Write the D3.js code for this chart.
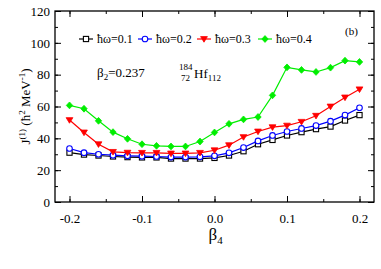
<!DOCTYPE html>
<html>
<head>
<meta charset="utf-8">
<script src="https://cdn.jsdelivr.net/npm/d3@7"></script>
<style>
  body { margin: 0; background: #fff; }
  text { font-family: "Liberation Serif", "DejaVu Serif", serif; fill: #000; }
</style>
</head>
<body>
<div id="chart"></div>
<script>
// beta4 grid
var beta4 = [-0.20, -0.18, -0.16, -0.14, -0.12, -0.10, -0.08, -0.06, -0.04, -0.02,
             0.00, 0.02, 0.04, 0.06, 0.08, 0.10, 0.12, 0.14, 0.16, 0.18, 0.20];

// J(1) for each rotational frequency
var j01 = [31.0, 29.8, 29.2, 28.6, 28.2, 28.0, 28.0, 27.3, 27.3, 27.3,
           27.7, 29.2, 31.9, 36.3, 39.0, 41.8, 43.9, 45.8, 47.4, 51.2, 54.6];
var j02 = [33.6, 31.0, 30.0, 29.4, 29.0, 28.8, 28.6, 28.2, 28.2, 28.4,
           29.0, 30.9, 34.2, 38.4, 41.8, 44.3, 46.2, 48.0, 50.8, 54.6, 59.2];
var j03 = [51.5, 43.7, 36.3, 31.5, 31.0, 30.9, 30.9, 30.5, 30.5, 30.9,
           32.5, 35.7, 40.8, 44.3, 47.0, 48.0, 50.4, 54.2, 60.0, 65.7, 70.8];
var j04 = [60.7, 58.6, 51.0, 43.9, 39.7, 36.3, 35.3, 34.9, 34.9, 38.0,
           43.7, 49.1, 51.9, 53.4, 67.0, 84.6, 83.0, 81.7, 84.4, 88.8, 88.0];

var seriesNames = ["\u0127\u03c9=0.1", "\u0127\u03c9=0.2", "\u0127\u03c9=0.3", "\u0127\u03c9=0.4"];
var xTicks = [-0.2, -0.1, 0.0, 0.1, 0.2];
var yTicks = [0, 20, 40, 60, 80, 100, 120];

var W = 381, H = 269;
var margin = {top: 11, right: 7, bottom: 67, left: 55};

var svg = d3.select("#chart").append("svg")
    .attr("width", W)
    .attr("height", H);

var x = d3.scaleLinear().domain([-0.22, 0.22]).range([margin.left, W - margin.right]);
var y = d3.scaleLinear().domain([0, 120]).range([H - margin.bottom, margin.top]);

var series = [
    {name: seriesNames[0], values: j01, color: "#000000", marker: "square"},
    {name: seriesNames[1], values: j02, color: "#0000ff", marker: "circle"},
    {name: seriesNames[2], values: j03, color: "#ff0000", marker: "triangle"},
    {name: seriesNames[3], values: j04, color: "#00ee00", marker: "diamond"}
];

// axes with inward ticks on all four sides
function addAxis(axis, transform) {
    var g = svg.append("g").attr("transform", transform).call(axis);
    g.select(".domain").remove();
    g.selectAll("line").attr("stroke", "#000").attr("stroke-width", 1);
    return g;
}
var xMinor = d3.range(-0.2, 0.2001, 0.05);
var yMinor = d3.range(0, 121, 10);

addAxis(d3.axisBottom(x).tickValues(xMinor).tickSize(-3).tickFormat(""), "translate(0," + y(0) + ")");
addAxis(d3.axisTop(x).tickValues(xMinor).tickSize(-3).tickFormat(""), "translate(0," + y(120) + ")");
addAxis(d3.axisLeft(y).tickValues(yMinor).tickSize(-3).tickFormat(""), "translate(" + x(-0.22) + ",0)");
addAxis(d3.axisRight(y).tickValues(yMinor).tickSize(-3).tickFormat(""), "translate(" + x(0.22) + ",0)");

var xb = addAxis(d3.axisBottom(x).tickValues(xTicks).tickSize(-6).tickPadding(12)
        .tickFormat(d3.format(".1f")), "translate(0," + y(0) + ")");
xb.selectAll("text").attr("font-size", 13).attr("font-family", "Liberation Serif");
addAxis(d3.axisTop(x).tickValues(xTicks).tickSize(-6).tickFormat(""), "translate(0," + y(120) + ")");
var yl = addAxis(d3.axisLeft(y).tickValues(yTicks).tickSize(-6).tickPadding(5), "translate(" + x(-0.22) + ",0)");
yl.selectAll("text").attr("font-size", 13).attr("font-family", "Liberation Serif");
addAxis(d3.axisRight(y).tickValues(yTicks).tickSize(-6).tickFormat(""), "translate(" + x(0.22) + ",0)");

xb.selectAll("text").text(function(d) { return d3.format(".1f")(d).replace("\u2212", "-"); });

svg.append("rect")
    .attr("x", x(-0.22)).attr("y", y(120))
    .attr("width", x(0.22) - x(-0.22)).attr("height", y(0) - y(120))
    .attr("fill", "none").attr("stroke", "#000").attr("stroke-width", 1.3);

// markers
function drawMarker(g, type, color, cx, cy) {
    if (type == "square") {
        g.append("rect").attr("x", cx - 2.6).attr("y", cy - 2.6).attr("width", 5.2).attr("height", 5.2)
            .attr("fill", "#fff").attr("stroke", color).attr("stroke-width", 1.1);
    } else if (type == "circle") {
        g.append("circle").attr("cx", cx).attr("cy", cy).attr("r", 2.8)
            .attr("fill", "#fff").attr("stroke", color).attr("stroke-width", 1.1);
    } else if (type == "triangle") {
        g.append("path").attr("d", "M" + (cx - 3.4) + "," + (cy - 2.4) + "L" + (cx + 3.4) + "," + (cy - 2.4) + "L" + cx + "," + (cy + 3.2) + "Z")
            .attr("fill", color).attr("stroke", color).attr("stroke-width", 0.8);
    } else {
        g.append("path").attr("d", "M" + cx + "," + (cy - 3.4) + "L" + (cx + 3.2) + "," + cy + "L" + cx + "," + (cy + 3.4) + "L" + (cx - 3.2) + "," + cy + "Z")
            .attr("fill", color).attr("stroke", color).attr("stroke-width", 0.8);
    }
}

var line = d3.line()
    .x(function(d, i) { return x(beta4[i]); })
    .y(function(d) { return y(d); });

series.forEach(function(s) {
    var g = svg.append("g");
    g.append("path")
        .datum(s.values)
        .attr("d", line)
        .attr("fill", "none")
        .attr("stroke", s.color)
        .attr("stroke-width", 1.2);
    s.values.forEach(function(v, i) {
        drawMarker(g, s.marker, s.color, x(beta4[i]), y(v));
    });
});

// legend
var legX = [79, 138, 197, 258];
var legY = 39;
series.forEach(function(s, i) {
    var g = svg.append("g");
    g.append("line").attr("x1", legX[i]).attr("x2", legX[i] + 14)
        .attr("y1", legY).attr("y2", legY)
        .attr("stroke", s.color).attr("stroke-width", 1.2);
    drawMarker(g, s.marker, s.color, legX[i] + 7, legY);
    g.append("text").attr("x", legX[i] + 18).attr("y", legY + 4)
        .attr("font-size", 12).text(s.name);
});

svg.append("text").attr("x", 345).attr("y", 35).attr("font-size", 11).text("(b)");

// annotations
var b2 = svg.append("text").attr("x", 97).attr("y", 77).attr("font-size", 13);
b2.append("tspan").text("\u03b2");
b2.append("tspan").attr("font-size", 9).attr("dy", 3).text("2");
b2.append("tspan").attr("dy", -3).text("=0.237");

svg.append("text").attr("x", 179).attr("y", 70).attr("font-size", 9).text("184");
svg.append("text").attr("x", 181).attr("y", 81).attr("font-size", 9).text("72");
var hf = svg.append("text").attr("x", 194).attr("y", 78).attr("font-size", 13);
hf.append("tspan").text("Hf");
hf.append("tspan").attr("font-size", 9).attr("dy", 3).text("112");

// axis titles
var xt = svg.append("text").attr("x", x(0) - 6).attr("y", 240).attr("font-size", 17);
xt.append("tspan").text("\u03b2");
xt.append("tspan").attr("font-size", 11).attr("dy", 4).text("4");

var yt = svg.append("text")
    .attr("transform", "translate(30," + y(60) + ") rotate(-90)")
    .attr("text-anchor", "middle")
    .attr("font-size", 13);
yt.append("tspan").text("J");
yt.append("tspan").attr("font-size", 9).attr("dy", -5).text("(1)");
yt.append("tspan").attr("dy", 5).text(" (\u0127");
yt.append("tspan").attr("font-size", 9).attr("dy", -5).text("2");
yt.append("tspan").attr("dy", 5).text(" MeV");
yt.append("tspan").attr("font-size", 9).attr("dy", -5).text("-1");
yt.append("tspan").attr("dy", 5).text(")");
</script>
</body>
</html>
